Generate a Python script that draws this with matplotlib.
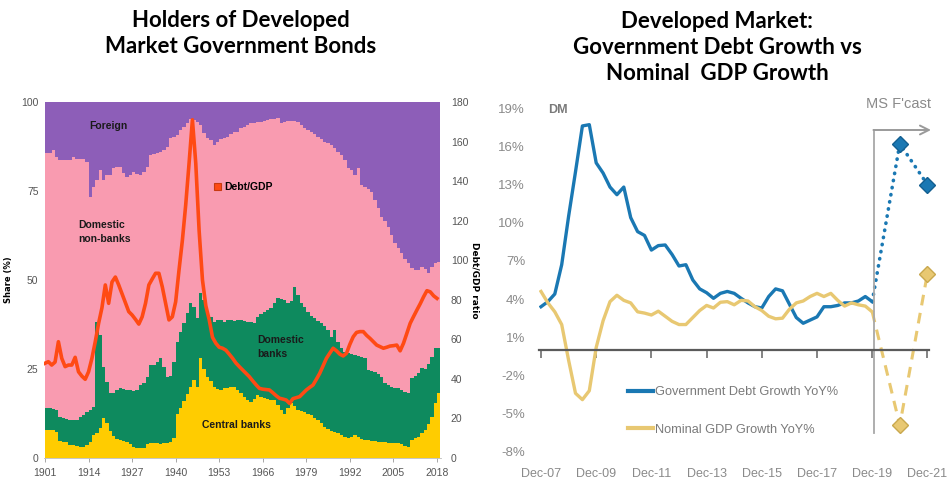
import numpy as np
import matplotlib
matplotlib.use("Agg")
import matplotlib.pyplot as plt
from matplotlib.patches import Patch
from matplotlib.lines import Line2D

# ---------------- Left chart data (cumulative stacked levels, % share) ----------------
years = list(range(1901, 2019))

central_banks_top = [
    8.0, 8.0, 8.0, 7.4, 4.8, 4.6, 4.5, 3.7, 3.7, 3.5,      # 1901-1910
    3.2, 3.2, 3.6, 4.4, 6.5, 7.0, 8.5, 11.1, 9.8, 7.5,     # 1911-1920
    6.2, 5.3, 5.0, 4.8, 4.6, 4.0, 3.2, 2.7, 2.7, 2.9,      # 1921-1930
    3.8, 4.1, 4.1, 4.1, 4.0, 4.1, 4.3, 4.6, 5.5, 12.5,     # 1931-1940
    14.0, 16.0, 18.0, 20.0, 21.9, 20.0, 28.0, 25.0, 22.8, 21.5,  # 1941-1950
    20.0, 19.5, 19.0, 19.6, 19.6, 20.0, 20.0, 19.0, 18.2, 17.2,  # 1951-1960
    16.2, 15.8, 16.5, 17.7, 17.2, 16.8, 16.5, 16.4, 16.4, 15.0,  # 1961-1970
    13.5, 12.5, 14.0, 15.4, 14.5, 13.5, 13.2, 12.8, 12.5, 12.0,  # 1971-1980
    11.3, 10.7, 9.8, 8.8, 8.2, 7.6, 7.2, 6.9, 6.4, 5.9,    # 1981-1990
    5.5, 6.0, 6.5, 6.0, 5.4, 5.1, 5.0, 4.8, 4.7, 4.6,      # 1991-2000
    4.5, 4.4, 4.3, 4.2, 4.1, 4.1, 3.8, 3.4, 3.2, 5.0,      # 2001-2010
    5.5, 6.0, 7.0, 7.9, 9.5, 11.6, 15.4, 18.2,             # 2011-2018
]

domestic_banks_top = [
    14.0, 14.0, 13.8, 13.5, 11.5, 11.1, 11.0, 10.8, 10.7, 10.7,
    11.5, 12.0, 13.0, 13.5, 14.4, 38.3, 34.5, 25.6, 21.4, 18.2,
    18.2, 19.0, 19.6, 19.3, 19.0, 19.0, 18.8, 19.0, 20.5, 21.0,
    22.8, 26.1, 26.0, 27.0, 28.0, 25.6, 22.8, 23.0, 27.0, 32.7,
    35.5, 37.8, 40.6, 43.5, 42.5, 39.2, 46.3, 44.4, 40.6, 39.5,
    38.3, 38.8, 38.8, 38.3, 38.8, 38.8, 38.5, 38.8, 38.8, 38.5,
    38.3, 38.3, 37.8, 39.7, 40.5, 41.1, 41.5, 42.0, 43.5, 44.9,
    44.6, 44.4, 43.5, 44.0, 48.1, 45.8, 43.5, 42.5, 41.1, 40.0,
    39.2, 38.5, 37.8, 37.0, 36.0, 34.0, 36.0, 32.7, 31.0, 29.9,
    29.4, 29.2, 28.9, 28.6, 28.3, 28.0, 24.7, 24.5, 24.2, 23.5,
    22.8, 21.0, 20.5, 20.0, 19.8, 19.6, 19.0, 18.6, 18.2, 22.4,
    23.0, 23.8, 25.2, 25.0, 26.5, 28.5, 30.8, 30.8,
]

domestic_nonbanks_top = [
    85.6, 85.6, 86.5, 84.6, 83.7, 83.7, 83.7, 83.7, 84.5, 83.9,
    83.9, 83.9, 83.2, 73.4, 76.2, 78.1, 80.9, 78.1, 79.5, 79.5,
    81.4, 81.8, 81.8, 80.0, 79.0, 79.5, 80.4, 79.8, 79.5, 80.4,
    81.8, 85.1, 85.3, 85.6, 86.0, 86.5, 87.4, 89.8, 90.2, 90.7,
    92.1, 93.0, 94.0, 95.1, 95.0, 94.5, 93.5, 91.2, 90.0, 89.3,
    87.9, 88.9, 89.5, 90.0, 90.3, 91.0, 91.5, 91.7, 92.6, 93.0,
    93.5, 94.0, 94.2, 94.4, 94.5, 94.8, 95.0, 95.1, 95.2, 95.4,
    94.0, 94.4, 94.6, 94.8, 94.6, 94.5, 93.5, 92.6, 92.2, 91.7,
    91.0, 90.3, 89.6, 88.9, 88.4, 87.9, 87.0, 86.0, 85.0, 83.7,
    81.4, 81.0, 79.5, 81.4, 76.7, 76.2, 75.5, 74.8, 72.5, 70.1,
    67.8, 66.5, 65.0, 62.6, 60.3, 59.0, 57.5, 56.0, 54.7, 53.5,
    52.8, 52.8, 53.7, 53.0, 51.9, 53.7, 54.7, 55.1,
]

foreign_top = [100.0] * len(years)

debt_to_gdp = [
    47.9, 48.7, 47.0, 48.5, 58.8, 50.4, 46.2, 47.0, 47.0, 50.9,
    43.6, 41.4, 39.8, 43.6, 50.4, 58.8, 68.1, 76.0, 87.5, 78.2,
    89.0, 91.5, 87.5, 83.0, 78.5, 74.0, 72.3, 70.1, 67.7, 71.4,
    78.2, 87.5, 90.5, 93.4, 93.4, 86.6, 78.2, 69.8, 71.4, 79.0,
    95.0, 110.0, 128.0, 149.0, 171.0, 149.0, 115.0, 90.0, 77.0, 70.0,
    61.0, 58.0, 56.0, 55.5, 54.5, 52.5, 50.4, 48.0, 46.2, 44.5,
    42.8, 41.1, 39.0, 37.0, 35.2, 34.8, 34.6, 34.4, 33.0, 31.5,
    30.2, 29.8, 29.3, 27.6, 30.0, 30.5, 31.0, 32.7, 34.4, 35.7,
    36.9, 39.8, 42.8, 46.6, 50.4, 53.0, 55.5, 54.2, 52.5, 51.6,
    53.0, 57.5, 61.3, 63.5, 63.9, 63.9, 62.0, 60.5, 58.8, 57.1,
    56.3, 55.5, 56.0, 56.6, 56.8, 57.1, 54.2, 58.0, 63.0, 68.1,
    71.5, 74.8, 78.0, 81.5, 84.6, 84.0, 82.0, 80.7,
]

left_year_ticks = [1901, 1914, 1927, 1940, 1953, 1966, 1979, 1992, 2005, 2018]
left_share_ticks = [0, 25, 50, 75, 100]
right_ratio_ticks = list(range(0, 181, 20))

# ---------------- Right chart data (YoY %, quarterly Dec-07 .. Dec-19) ----------------
gov_debt_growth = [
    3.4, 3.8, 4.4, 6.7, 10.5, 14.0, 17.6, 17.7, 14.7, 13.9,
    12.8, 12.2, 12.8, 10.4, 9.3, 9.0, 7.85, 8.2, 8.25, 7.5,
    6.6, 6.7, 5.5, 4.8, 4.5, 4.06, 4.45, 4.6, 4.45, 4.06,
    3.7, 3.4, 3.3, 4.2, 4.8, 4.65, 3.6, 2.55, 2.1, 2.35,
    2.6, 3.4, 3.4, 3.5, 3.7, 3.7, 3.85, 4.2, 3.8,
]
nominal_gdp_growth = [
    4.6, 3.7, 3.0, 2.0, -0.8, -3.4, -3.9, -3.2, 0.2, 2.3,
    3.8, 4.3, 3.9, 3.7, 3.0, 2.9, 2.75, 3.05, 2.65, 2.25,
    2.0, 2.0, 2.55, 3.1, 3.5, 3.3, 3.75, 3.8, 3.55, 3.9,
    3.85, 3.4, 3.1, 2.65, 2.45, 2.5, 3.2, 3.7, 3.85, 4.2,
    4.45, 4.2, 4.45, 3.9, 3.45, 3.7, 3.55, 3.45, 3.0,
]
forecast_labels = ["Dec-20", "Dec-21"]
gov_debt_forecast = [16.2, 13.0]
nominal_gdp_forecast = [-5.9, 6.0]

right_x_labels = ["Dec-07", "Dec-09", "Dec-11", "Dec-13", "Dec-15", "Dec-17", "Dec-19", "Dec-21"]
right_y_ticks = [-8, -5, -2, 1, 4, 7, 10, 13, 16, 19]

# ---------------- Styling ----------------
W, H = 947, 486
SANS = ["Liberation Sans", "DejaVu Sans"]
TITLE_FONT = ["Lato", "DejaVu Sans"]

C_CB = "#FFCC00"
C_DB = "#0E8A5E"
C_DNB = "#F99BB0"
C_FOR = "#8D5EB8"
C_RED = "#FF4A14"
C_BLUE = "#1A78B3"
C_GOLD = "#E8C872"

fig = plt.figure(figsize=(W / 100, H / 100), dpi=100)
fig.patch.set_facecolor("white")


def fx(px):
    return px / W


def fy(py):
    return 1 - py / H


# ---------------- Left chart ----------------
ax1 = fig.add_axes([fx(44), fy(458), fx(441 - 44), (458 - 102) / H])
yrs = np.array(years, dtype=float)
edges = np.append(yrs, yrs[-1] + 1)
cb = np.array(central_banks_top)
db = np.array(domestic_banks_top)
dnb = np.array(domestic_nonbanks_top)
fr = np.array(foreign_top)

ax1.stairs(cb, edges, baseline=0, fill=True, color=C_CB, lw=0)
ax1.stairs(db, edges, baseline=cb, fill=True, color=C_DB, lw=0)
ax1.stairs(dnb, edges, baseline=db, fill=True, color=C_DNB, lw=0)
ax1.stairs(fr, edges, baseline=dnb, fill=True, color=C_FOR, lw=0)

ax1.set_xlim(1900.7, 2019.2)
ax1.set_ylim(0, 100)
ax1.set_yticks(left_share_ticks)
ax1.set_xticks(left_year_ticks)
ax1.tick_params(axis="y", length=0, pad=4, labelsize=7.5, labelcolor="#555555")
ax1.tick_params(axis="x", length=3, width=0.6, color="#999999", pad=4,
                labelsize=7.5, labelcolor="#555555")
for lab in ax1.get_xticklabels() + ax1.get_yticklabels():
    lab.set_family(SANS)
for s in ["top", "right", "left"]:
    ax1.spines[s].set_visible(False)
ax1.spines["bottom"].set_color("#bbbbbb")
ax1.spines["bottom"].set_linewidth(0.6)
ax1.set_ylabel("Share (%)", fontsize=6, fontweight="bold", family=["DejaVu Sans"], labelpad=6)

ax2 = ax1.twinx()
ax2.plot(yrs, debt_to_gdp, color=C_RED, lw=2.6, solid_joinstyle="round")
ax2.set_ylim(0, 180)
ax2.set_yticks(right_ratio_ticks)
ax2.tick_params(axis="y", length=0, pad=7, labelsize=7.5, labelcolor="#555555")
for lab in ax2.get_yticklabels():
    lab.set_family(SANS)
for s in ax2.spines.values():
    s.set_visible(False)
ax2.set_ylabel("Debt/GDP ratio", fontsize=6.5, fontweight="bold", rotation=270,
               family=["DejaVu Sans"], labelpad=8)

lab_kw = dict(fontsize=7.5, fontweight="bold", family=SANS, color="#1a1a1a")
ax1.text(1919.8, 93.3, "Foreign", ha="center", va="center", **lab_kw)
ax1.text(1911.0, 63.5, "Domestic\nnon-banks", ha="left", va="center", linespacing=1.6, **lab_kw)
ax1.text(1964.3, 31.2, "Domestic\nbanks", ha="left", va="center", linespacing=1.6, **lab_kw)
ax1.text(1947.9, 9.3, "Central banks", ha="left", va="center", **lab_kw)
ax1.legend(handles=[Patch(facecolor=C_RED, edgecolor="#c83a10", lw=0.8)],
           labels=["Debt/GDP"], loc="center left",
           bbox_to_anchor=(fx(205), fy(187)), bbox_transform=fig.transFigure,
           frameon=False, handlelength=0.6, handleheight=0.6, handletextpad=0.3,
           prop=dict(family=SANS, weight="bold", size=7.5))

# ---------------- Right chart ----------------
q_per_px = 1 / 6.9
ax3 = fig.add_axes([fx(539), fy(460), fx(929 - 539), 360 / H])
q_actual = np.arange(len(gov_debt_growth))
tick_q = np.arange(0, 8 * len(right_x_labels), 8)
fc_q = [tick_q[right_x_labels.index("Dec-19")] + 4 * (i + 1) for i in range(len(forecast_labels))]

ax3.set_xlim(-2 * q_per_px, (929 - 541) * q_per_px)
ax3.set_ylim((350 - 460) / 12.73, (350 - 100) / 12.73)

ax3.plot(q_actual, gov_debt_growth, color=C_BLUE, lw=2.4, solid_joinstyle="round")
ax3.plot(q_actual, nominal_gdp_growth, color=C_GOLD, lw=2.4, solid_joinstyle="round")

ax3.plot([q_actual[-1]] + fc_q, [gov_debt_growth[-1]] + gov_debt_forecast, color=C_BLUE,
         lw=2.6, linestyle=(0, (0.1, 1.9)), dash_capstyle="round", clip_on=False)
ax3.plot([q_actual[-1]] + fc_q, [nominal_gdp_growth[-1]] + nominal_gdp_forecast, color=C_GOLD,
         lw=2.2, linestyle=(0, (3.5, 2.5)), clip_on=False)
ax3.plot(fc_q, gov_debt_forecast, linestyle="none", marker="D", ms=8, color=C_BLUE,
         mec="#135f90", clip_on=False)
ax3.plot(fc_q, nominal_gdp_forecast, linestyle="none", marker="D", ms=8, color=C_GOLD,
         mec="#c9a84e", clip_on=False)

for s in ["top", "right", "left"]:
    ax3.spines[s].set_visible(False)
ax3.spines["bottom"].set_position(("data", 0))
ax3.spines["bottom"].set_color("#5a5a5a")
ax3.spines["bottom"].set_linewidth(1.6)
ax3.set_xticks(tick_q)
ax3.tick_params(axis="x", direction="out", length=6, width=1.3, color="#7a7a7a",
                labelbottom=False)
ax3.set_yticks(right_y_ticks)
ax3.set_yticklabels([f"{v}%" for v in right_y_ticks])
ax3.tick_params(axis="y", length=0, pad=10, labelsize=9.5, labelcolor="#8a8a8a")
for lab in ax3.get_yticklabels():
    lab.set_family(SANS)

sec = ax3.secondary_xaxis("bottom")
sec.set_xticks(tick_q)
sec.set_xticklabels(right_x_labels)
sec.tick_params(axis="x", length=0, pad=6, labelsize=9, labelcolor="#8a8a8a")
sec.spines["bottom"].set_visible(False)
for lab in sec.get_xticklabels():
    lab.set_family(SANS)

# forecast bracket
fq = (874 - 541) * q_per_px
ytop = (350 - 130) / 12.73
ybot = (350 - 433) / 12.73
ax3.plot([fq, fq], [ybot, ytop], color="#a8a8a8", lw=1.3, clip_on=False)
ax3.annotate("", xy=((931 - 541) * q_per_px, ytop), xytext=(fq - 0.08, ytop),
             arrowprops=dict(arrowstyle="->", color="#9a9a9a", lw=1.4,
                             shrinkA=0, shrinkB=0, mutation_scale=16),
             annotation_clip=False)
ax3.text((898 - 541) * q_per_px, (350 - 104) / 12.73, "MS F'cast", ha="center", va="center",
         fontsize=10.5, color="#8a8a8a", family=SANS)
ax3.text((548 - 541) * q_per_px, (350 - 110) / 12.73, "DM", ha="left", va="center",
         fontsize=9, fontweight="bold", color="#7a7a7a", family=SANS)

handles = [Line2D([], [], color=C_BLUE, lw=3), Line2D([], [], color=C_GOLD, lw=3)]
leg = ax3.legend(handles, ["Government Debt Growth YoY%", "Nominal GDP Growth YoY%"],
                 loc="center left", bbox_to_anchor=(fx(616), fy(411)),
                 bbox_transform=fig.transFigure, frameon=False,
                 handlelength=2.0, handletextpad=0.15, labelspacing=2.0,
                 prop=dict(family=SANS, size=9.2))
for t in leg.get_texts():
    t.set_color("#7a7a7a")

# ---------------- Titles ----------------
fig.text(fx(241), fy(33.5), "Holders of Developed\nMarket Government Bonds",
         ha="center", va="center", fontsize=16, fontweight="bold",
         family=TITLE_FONT, linespacing=1.3)
fig.text(fx(717), fy(47.5), "Developed Market:\nGovernment Debt Growth vs\nNominal  GDP Growth",
         ha="center", va="center", fontsize=16, fontweight="bold",
         family=TITLE_FONT, linespacing=1.3)

fig.savefig("out.png", dpi=100, facecolor="white")
